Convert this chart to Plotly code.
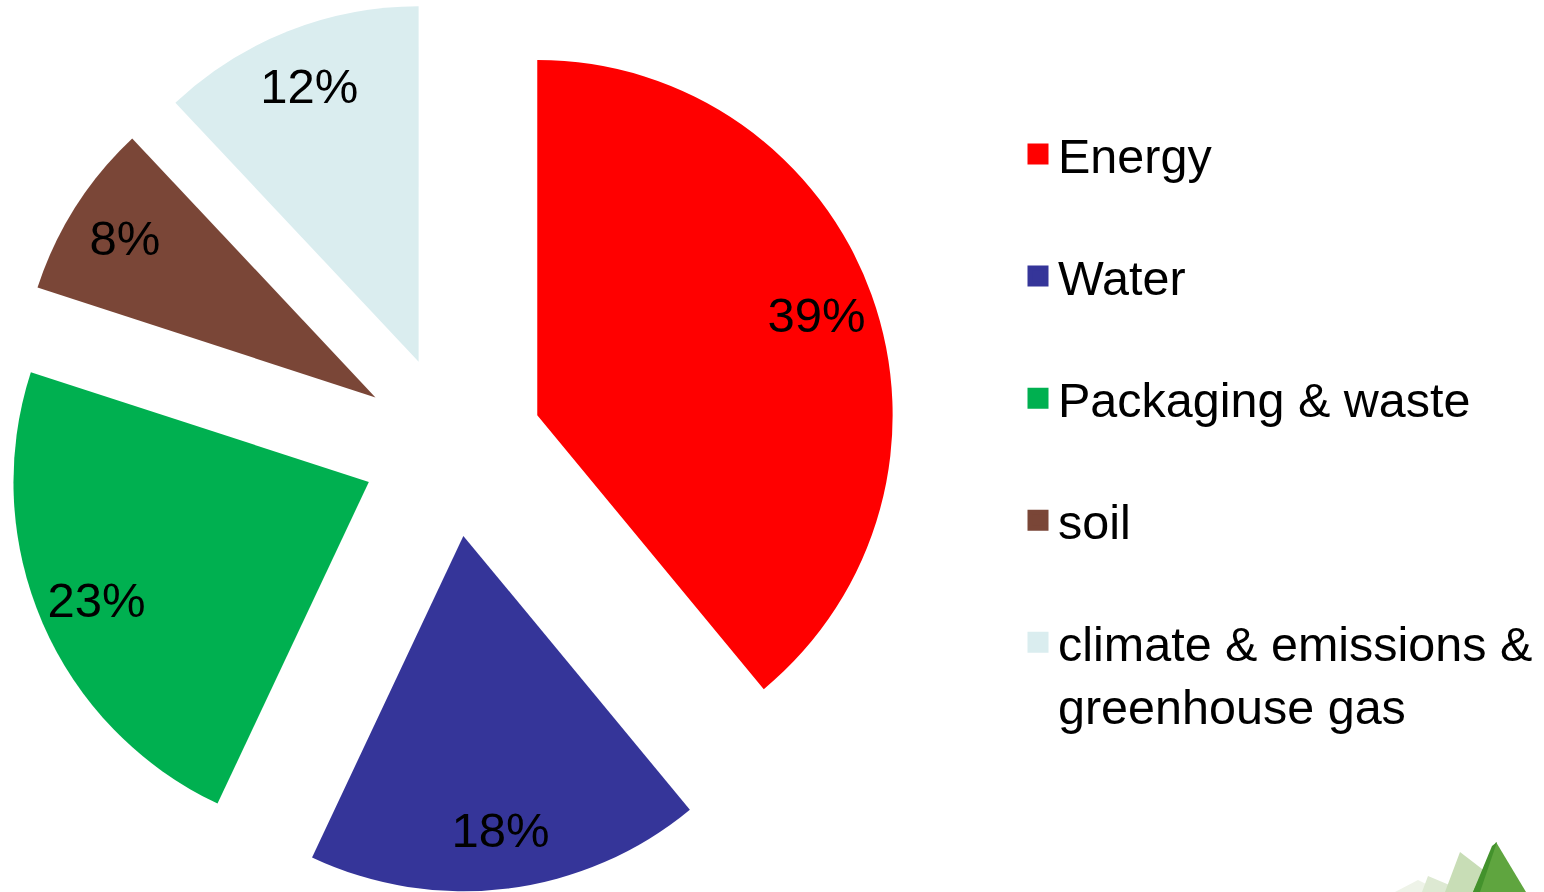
import plotly.graph_objects as go

# ---- data ----
categories = ["Energy", "Water", "Packaging & waste", "soil",
              "climate & emissions &<br>greenhouse gas"]
values = [39, 18, 23, 8, 12]
colors = ["#FF0000", "#353599", "#00B050", "#7A4637", "#DAEDEF"]

FONT = "Liberation Sans, Arial, sans-serif"
W, H = 1544, 892
pull = [0.255] * len(values)
dom = dict(x=[0, 904 / W], y=[0, 1])

fig = go.Figure()

# solid exploded pie
fig.add_trace(go.Pie(
    labels=categories, values=values, sort=False, direction="clockwise",
    rotation=0, pull=pull, domain=dom,
    marker=dict(colors=colors, line=dict(width=0)),
    textinfo="none", showlegend=False, hoverinfo="label+percent",
))

# transparent ring carrying the percentage labels near the outer edge
fig.add_trace(go.Pie(
    labels=categories, values=values, sort=False, direction="clockwise",
    rotation=0, pull=pull, domain=dom, hole=0.67,
    marker=dict(colors=["rgba(0,0,0,0)"] * len(values), line=dict(width=0)),
    textinfo="percent", textposition="inside",
    insidetextorientation="horizontal",
    textfont=dict(size=49, color="black", family=FONT),
    showlegend=False, hoverinfo="skip",
))

# legend entries (large square markers)
for name, col in zip(categories, colors):
    fig.add_trace(go.Scatter(
        x=[None], y=[None], mode="markers", name=name, legendgroup=name,
        marker=dict(symbol="square", size=16, color=col,
                    line=dict(color=col, width=5)),
        showlegend=True, hoverinfo="skip",
    ))

# decorative leaf logo (bottom-right)
def ppath(pts):
    s = ""
    for i, (px, py) in enumerate(pts):
        s += ("M" if i == 0 else "L") + f"{px / W:.5f},{1 - py / H:.5f} "
    return s + "Z"

logo = [
    ([(1395, 892), (1418, 880), (1442, 892)], "#EEF3E8"),
    ([(1422, 892), (1428, 876), (1466, 892)], "#DDE9D2"),
    ([(1445, 892), (1460, 852), (1486, 872), (1486, 892)], "#C8DDB6"),
    ([(1473, 892), (1496, 842), (1526, 892)], "#5FA53F"),
    ([(1473, 892), (1492, 846), (1497, 842), (1480, 892)], "#43922C"),
]
shapes = [dict(type="path", xref="paper", yref="paper", path=ppath(p),
               fillcolor=c, line=dict(width=0), layer="above")
          for p, c in logo]

fig.update_layout(
    width=W, height=H,
    margin=dict(l=0, r=0, t=0, b=0),
    paper_bgcolor="white", plot_bgcolor="white",
    font=dict(family=FONT, color="black"),
    xaxis=dict(visible=False), yaxis=dict(visible=False),
    showlegend=True,
    legend=dict(
        x=1018 / W, y=1 - 116 / H, xanchor="left", yanchor="top",
        font=dict(size=48.5, family=FONT, color="black"),
        tracegroupgap=56, valign="top", bgcolor="rgba(0,0,0,0)",
        itemsizing="trace", traceorder="grouped",
    ),
    shapes=shapes,
)

fig.write_html("out.html")
